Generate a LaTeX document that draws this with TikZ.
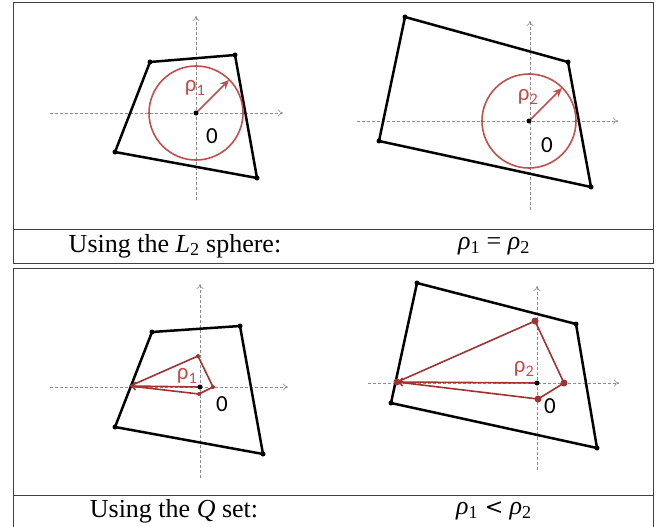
\documentclass[tikz,border=0pt]{standalone}
\usepackage{fontspec}
\setmainfont{Liberation Serif}
\newfontfamily\labelfont{Carlito}
\usetikzlibrary{arrows.meta}
\definecolor{ballred}{RGB}{192,80,77}
\definecolor{setred}{RGB}{160,50,50}
\begin{document}
\begin{tikzpicture}[x=1pt, y=-1pt,
    frame/.style={draw=black!75, line width=1pt},
    axis/.style={draw=black!45, densely dashed, line width=0.6pt, -{To[length=5pt,width=7pt]}},
    hull/.style={draw=black, line width=2.5pt, line join=round},
    vtx/.style={fill=black},
    ball/.style={draw=ballred, line width=1.6pt},
    qset/.style={draw=setred, line width=1.6pt, line join=round},
    radius arrow/.style={line width=1.6pt, -{Stealth[length=9pt,width=8pt]}},
    lbl/.style={font=\labelfont\fontsize{23}{25}\selectfont, inner sep=0pt},
    caption/.style={font=\fontsize{26}{28}\selectfont, inner sep=0pt}]
\useasboundingbox (0,0) rectangle (661,527);

% frames and captions
\draw[frame] (13,3) rectangle (653,229);
\draw[frame] (13,229) rectangle (653,263);
\draw[frame] (13,268) rectangle (653,495);
\draw[frame] (13,530) -- (13,495) -- (653,495) -- (653,530);
\node[caption] (capA) at (175,246) {Using the \textit{L}\textsubscript{2} sphere:};
\node[caption] (eqA) at (494,246) {\textit{ρ}\textsubscript{1} = \textit{ρ}\textsubscript{2}};
\node[caption] (capB) at (174,511) {Using the \textit{Q} set:};
\node[caption] (eqB) at (494,511) {\textit{ρ}\textsubscript{1} {\fontspec{DejaVu Serif}\fontsize{22}{24}\selectfont <} \textit{ρ}\textsubscript{2}};

% top left: L2 sphere, small polytope
\coordinate (o1) at (196,113);
\draw[axis] (50,113) -- (283,113);
\draw[axis] (196,200) -- (196,16);
\coordinate (a1) at (150,62); \coordinate (a2) at (235,55);
\coordinate (a3) at (257,178); \coordinate (a4) at (115,152);
\draw[hull] (a1) -- (a2) -- (a3) -- (a4) -- cycle;
\foreach \p in {a1,a2,a3,a4} \fill[vtx] (\p) circle (2.5pt);
\draw[ball] (o1) circle (47pt);
\draw[ballred, radius arrow] (o1) -- ++(33,-33);
\fill (o1) circle (2.5pt);
\node[lbl, text=ballred] (r1) at (195,88) {ρ\textsubscript{1}};
\node[lbl] (z1) at (212,136) {0};

% top right: L2 sphere, large polytope
\coordinate (o2) at (529,121);
\draw[axis] (357,121) -- (618,121);
\draw[axis] (530,210) -- (530,21);
\coordinate (b1) at (405,17); \coordinate (b2) at (568,62);
\coordinate (b3) at (591,187); \coordinate (b4) at (379,141);
\draw[hull] (b1) -- (b2) -- (b3) -- (b4) -- cycle;
\foreach \p in {b1,b2,b3,b4} \fill[vtx] (\p) circle (2.5pt);
\draw[ball] (o2) circle (47pt);
\draw[ballred, radius arrow] (o2) -- ++(33,-33);
\fill (o2) circle (2.5pt);
\node[lbl, text=ballred] (r2) at (528,97) {ρ\textsubscript{2}};
\node[lbl] (z2) at (547,145) {0};

% bottom left: Q set, small polytope
\coordinate (o3) at (200,387);
\draw[axis] (50,387) -- (288,387);
\draw[axis] (200,478) -- (200,284);
\coordinate (c1) at (152,332); \coordinate (c2) at (240,326);
\coordinate (c3) at (263,454); \coordinate (c4) at (115,427);
\draw[hull] (c1) -- (c2) -- (c3) -- (c4) -- cycle;
\foreach \p in {c1,c2,c3,c4} \fill[vtx] (\p) circle (2.5pt);
\coordinate (q1) at (130,386); \coordinate (q2) at (198,356);
\coordinate (q3) at (213,387); \coordinate (q4) at (199,394);
\draw[qset] (q1) -- (q2) -- (q3) -- (q4) -- cycle;
\foreach \p in {q2,q3,q4} \fill[setred] (\p) circle (2pt);
\draw[setred, line width=1.6pt, -{To[length=6pt,width=9pt]}] (o3) -- (q1);
\fill (o3) circle (2.5pt);
\node[lbl, text=ballred] (r3) at (187,376) {ρ\textsubscript{1}};
\node[lbl] (z3) at (222,404) {0};

% bottom right: Q set, large polytope
\coordinate (o4) at (537,383);
\draw[axis] (368,383) -- (619,383);
\draw[axis] (537,470) -- (537,286);
\coordinate (d1) at (417,283); \coordinate (d2) at (576,324);
\coordinate (d3) at (597,448); \coordinate (d4) at (391,403);
\draw[hull] (d1) -- (d2) -- (d3) -- (d4) -- cycle;
\foreach \p in {d1,d2,d3,d4} \fill[vtx] (\p) circle (2.5pt);
\coordinate (s1) at (397,382); \coordinate (s2) at (535,321);
\coordinate (s3) at (564,383); \coordinate (s4) at (538,399);
\draw[qset] (s1) -- (s2) -- (s3) -- (s4) -- cycle;
\foreach \p in {s1,s2,s3,s4} \fill[setred] (\p) circle (3.5pt);
\draw[setred, line width=1.6pt, -{To[length=6pt,width=9pt]}] (o4) -- (s1);
\fill (o4) circle (2.5pt);
\node[lbl, text=ballred] (r4) at (524,369) {ρ\textsubscript{2}};
\node[lbl] (z4) at (550,406) {0};
\end{tikzpicture}
\end{document}
